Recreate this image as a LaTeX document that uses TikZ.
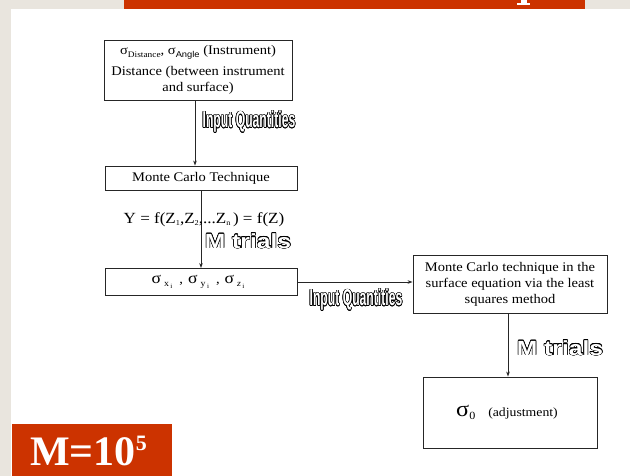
\documentclass[tikz,border=0pt]{standalone}
\usepackage{fontspec}
\setmainfont[FakeStretch=1.1]{Liberation Serif}
\newfontfamily\plainserif{Liberation Serif}
\newfontfamily\arialf[FakeStretch=1.1]{Liberation Sans}
\newfontfamily\impactf[FakeStretch=0.53]{Liberation Sans}
\newfontfamily\blackf[FakeStretch=1.2]{Liberation Sans}
\usepackage{contour}
\contourlength{0.55pt}
\usetikzlibrary{arrows.meta}
\definecolor{slidebg}{RGB}{233,229,222}
\definecolor{accent}{RGB}{204,51,0}
\newcommand\hollow[1]{\contour{black}{\textcolor{white}{#1}}}
\newcommand\sigsub[1]{{\fontsize{16}{16}\selectfont σ}\raisebox{-2.5pt}{\fontsize{9}{9}\selectfont\hspace{3pt}#1\raisebox{-2.5pt}{\fontsize{6.5}{6.5}\selectfont\hspace{1.5pt}i}}}
\tikzset{
 box/.style={draw=black!85, line width=0.9pt, fill=white, inner sep=0pt, align=center, font=\fontsize{13.2}{16}\selectfont},
 arr/.style={draw=black!85, line width=0.8pt, -{Stealth[length=5pt,width=3.6pt]}},
 hollowa/.style={inner sep=0pt, font=\impactf\bfseries\fontsize{23}{23}\selectfont},
 hollowb/.style={inner sep=0pt, font=\blackf\bfseries\fontsize{20.5}{20.5}\selectfont},
 plaintext/.style={inner sep=0pt, font=\fontsize{15.5}{17}\selectfont},
}
\begin{document}
\begin{tikzpicture}[x=1pt,y=-1pt]
\useasboundingbox (0,0) rectangle (630,476);
\fill[slidebg] (0,0) rectangle (630,476);
\fill[white] (11,9) rectangle (630,476);
\fill[accent] (124,0) rectangle (585,9);
\fill[white] (520.5,0) rectangle (526.5,4);
\fill[white] (517,3.2) rectangle (530,5);
\fill[accent] (12,424) rectangle (172,476);
\node[anchor=base west, inner sep=0pt, text=white, font=\plainserif\bfseries\fontsize{42}{42}\selectfont] (mval) at (30,465) {M=10\raisebox{15pt}{\fontsize{22}{22}\selectfont 5}};

\node[box, minimum width=188pt, minimum height=60pt] (src) at (198,70)
 {σ\raisebox{-2.5pt}{\fontsize{8.5}{8.5}\selectfont Distance}, σ\raisebox{-2.5pt}{\arialf\fontsize{8.5}{8.5}\selectfont Angle} (Instrument)\\[5pt] Distance (between instrument\\ and surface)};
\node[box, minimum width=192pt, minimum height=24pt] (mc) at (201,178) {Monte Carlo Technique};
\node[box, minimum width=192pt, minimum height=27pt] (sig) at (201,282)
 {\hspace{-6pt}\sigsub{x}\hspace{7pt},\hspace{5pt}\sigsub{y}\hspace{7pt},\hspace{5pt}\sigsub{\textit{z}}};
\node[box, minimum width=194pt, minimum height=58pt] (lsq) at (510,284)
 {Monte Carlo technique in the\\ surface equation via the least\\ squares method};
\node[box, minimum width=174pt, minimum height=71pt] (adj) at (510,412.5)
 {\hspace{-6pt}{\fontsize{22}{22}\selectfont σ}\raisebox{-3pt}{\fontsize{11}{11}\selectfont 0}\hspace{13pt}{\fontsize{12.5}{14}\selectfont (adjustment)}};

\coordinate (a1) at (195,0);
\coordinate (a3) at (508,0);
\draw[arr] (src.south -| a1) -- (mc.north -| a1);
\draw[arr] (mc.south) -- (sig.north);
\draw[arr] (sig.east) -- (lsq.west |- sig.east);
\draw[arr] (lsq.south -| a3) -- (adj.north -| a3);

\node[plaintext] (eq) at (204,220) {Y = f(Z\raisebox{-1.5pt}{\fontsize{7.5}{7.5}\selectfont 1},Z\raisebox{-1.5pt}{\fontsize{7.5}{7.5}\selectfont 2},...Z\raisebox{-1.5pt}{\fontsize{7.5}{7.5}\selectfont n}\,) = f(Z)};
\node[hollowa] (iq1) at (249,122) {\hollow{Input Quantities}};
\node[hollowb] (mt1) at (248,241) {\hollow{M trials}};
\node[hollowa] (iq2) at (356,300) {\hollow{Input Quantities}};
\node[hollowb] (mt2) at (560,348) {\hollow{M trials}};
\end{tikzpicture}
\end{document}
